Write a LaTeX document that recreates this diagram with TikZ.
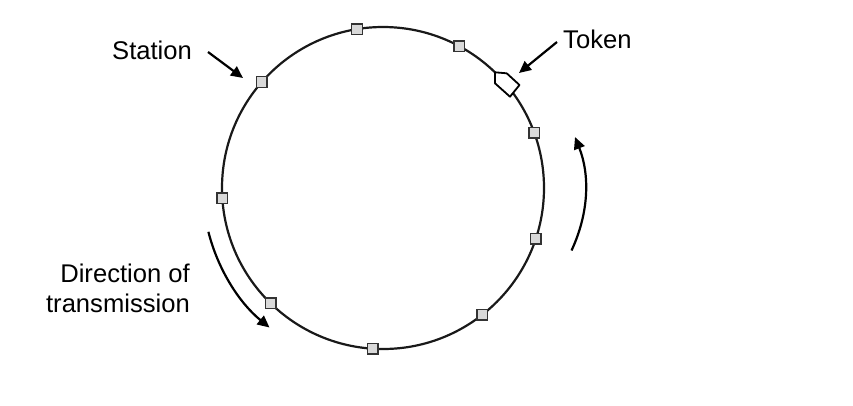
\documentclass[tikz,border=0pt]{standalone}
\usepackage{fontspec}
\setmainfont{Liberation Sans}
\usetikzlibrary{arrows.meta,calc}
\begin{document}
\begin{tikzpicture}[x=1pt,y=-1pt,
  ring/.style={line width=2.2pt, draw=black!90},
  stn/.style={draw=black!80, line width=1.4pt, fill=black!15, minimum size=10.5pt, inner sep=0pt, rectangle},
  lbl/.style={font=\fontsize{25.6}{30}\selectfont, inner sep=0pt, text=black},
  pointer/.style={line width=2.2pt, -{Triangle[length=12pt,width=11pt]}},
  tokenshape/.style={draw=black, line width=1.8pt, fill=white, line join=round}]
\useasboundingbox (0,0) rectangle (853,405);
\coordinate (C) at (383,188);
\draw[ring] (C) circle[radius=161];
% stations
\foreach \n/\a in {s1/99.3, s2/61.7, s3/20.1, s4/-18.3, s5/-52, s6/-93.6, s7/-134.3, s8/183.6, s9/138.8}{
  \node[stn] (\n) at ($(C)+(\a:161 and -161)$) {};
}
% token
\draw[tokenshape] (495,72.3) -- (506.7,73.3) -- (519.5,85) -- (510,96.7) -- (495,83.3) -- cycle;
% labels
\node[lbl, anchor=base west] (station) at (112,59) {Station};
\node[lbl, anchor=base west] (token) at (563,48) {Token};
\node[lbl, anchor=base east, align=right] (dir) at (190,312) {Direction of\\transmission};
% pointers
\coordinate (sa) at (208,52);
\coordinate (sb) at (243,78);
\draw[pointer] (sa) -- (sb);
\coordinate (ta) at (557,42);
\coordinate (tb) at (519,73);
\draw[pointer] (ta) -- (tb);
% direction arrows
\coordinate (la) at (208.4,231.8);
\coordinate (lc1) at (217.8,269.2);
\coordinate (lc2) at (239.0,302.6);
\coordinate (lb) at (269.5,327.5);
\draw[pointer] (la) .. controls (lc1) and (lc2) .. (lb);
\coordinate (ra) at (571.5,250.5);
\coordinate (rc1) at (589,213);
\coordinate (rc2) at (590,175);
\coordinate (rb) at (575,137);
\draw[pointer] (ra) .. controls (rc1) and (rc2) .. (rb);
\end{tikzpicture}
\end{document}
